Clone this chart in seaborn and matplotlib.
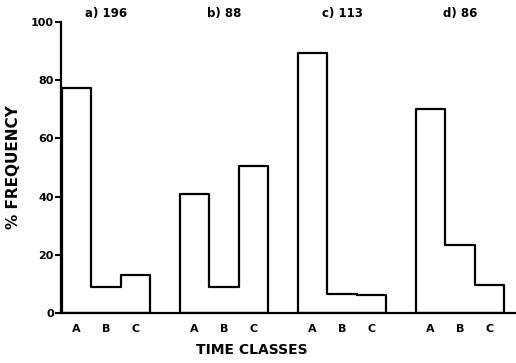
import numpy as np
import pandas as pd
import matplotlib
matplotlib.use('Agg')
import matplotlib.pyplot as plt
import seaborn as sns

# dados
classes = ['A', 'B', 'C']
grupos = ['a) 196', 'b) 88', 'c) 113', 'd) 86']
freq_a = [77.5, 9, 13]
freq_b = [41, 9, 50.5]
freq_c = [89.5, 6.5, 6]
freq_d = [70, 23.5, 9.5]
freqs = [freq_a, freq_b, freq_c, freq_d]

sns.set_style('ticks', {'axes.edgecolor': 'black', 'text.color': 'black',
                        'xtick.color': 'black', 'ytick.color': 'black',
                        'axes.labelcolor': 'black'})
plt.rcParams['font.family'] = ['DejaVu Sans']
plt.rcParams['font.weight'] = 'bold'

fig = plt.figure(figsize=(5.16, 3.63), dpi=100)
ax = fig.add_axes([0.118, 0.138, 0.882, 0.801])

passo = len(classes) + 1
ticks = []
ticklabels = []
for i, (nome, vals) in enumerate(zip(grupos, freqs)):
    ini = i * passo
    centros = np.arange(len(classes)) + ini + 0.5
    df = pd.DataFrame({'pos': centros, 'freq': vals})
    limites = list(range(ini, ini + len(classes) + 1))
    # contorno em degraus, fechado até a base
    sns.histplot(data=df, x='pos', weights='freq', bins=limites,
                 element='step', fill=True, color='black', facecolor='none',
                 edgecolor='black', linewidth=1.6, ax=ax)
    ticks.extend(centros)
    ticklabels.extend(classes)
    ax.text(ini + len(classes) / 2, 100.8, nome, ha='center', va='bottom',
            fontsize=8.5, fontweight='bold')

ax.set_xlim(-0.03, 15.4)
ax.set_ylim(0, 100)
ax.set_yticks([0, 20, 40, 60, 80, 100])
ax.set_xticks(ticks)
ax.set_xticklabels(ticklabels)
ax.tick_params(axis='x', length=0, pad=8, labelsize=8)
ax.tick_params(axis='y', length=4, width=1.5, pad=1, labelsize=8)
for lab in ax.get_xticklabels() + ax.get_yticklabels():
    lab.set_fontweight('bold')
sns.despine(ax=ax)
ax.spines['left'].set_linewidth(1.6)
ax.spines['bottom'].set_linewidth(1.6)
ax.set_xlabel('TIME CLASSES', fontsize=10, fontweight='bold')
ax.xaxis.set_label_coords(0.42, -0.105)
ax.set_ylabel('% FREQUENCY', fontsize=11, fontweight='bold')
ax.yaxis.set_label_coords(-0.088, 0.5)

fig.savefig('out.png', dpi=100)
